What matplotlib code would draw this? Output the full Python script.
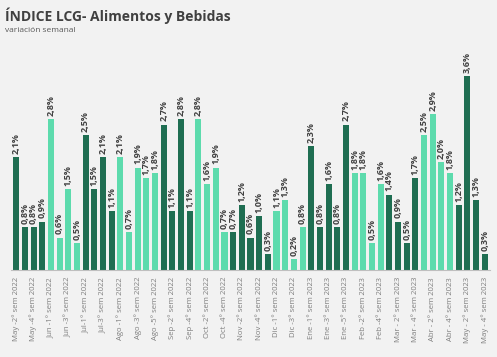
import matplotlib.pyplot as plt

# weekly variation, % (one bar per week)
values = [2.1, 0.8, 0.8, 0.9,
          2.8, 0.6, 1.5, 0.5,
          2.5, 1.5, 2.1, 1.1,
          2.1, 0.7, 1.9, 1.7, 1.8,
          2.7, 1.1, 2.8, 1.1,
          2.8, 1.6, 1.9, 0.7,
          0.7, 1.2, 0.6, 1.0, 0.3,
          1.1, 1.3, 0.2, 0.8,
          2.3, 0.8, 1.6, 0.8, 2.7,
          1.8, 1.8, 0.5, 1.6,
          1.4, 0.9, 0.5, 1.7,
          2.5, 2.9, 2.0, 1.8,
          1.2, 3.6, 1.3, 0.3]

# weeks per month, alternating shade
weeks_per_month = [4, 4, 4, 5, 4, 4, 5, 4, 5, 4, 4, 4, 4]

# only every other week gets a label
tick_labels = ["May -2° sem 2022", "May -4° sem 2022", "Jun -1° sem 2022", "Jun -3° sem 2022",
               "Jul-1° sem 2022", "Jul-3° sem 2022", "Ago -1° sem 2022", "Ago -3° sem 2022",
               "Ago -5° sem 2022", "Sep -2° sem 2022", "Sep -4° sem 2022", "Oct -2° sem 2022",
               "Oct -4° sem 2022", "Nov -2° sem 2022", "Nov -4° sem 2022", "Dic -1° sem 2022",
               "Dic -3° sem 2022", "Ene -1° sem 2023", "Ene -3° sem 2023", "Ene -5° sem 2023",
               "Feb -2° sem 2023", "Feb -4° sem 2023", "Mar - 2° sem 2023", "Mar - 4° sem 2023",
               "Abr - 2° sem 2023", "Abr - 4° sem 2023", "May - 2° sem 2023", "May - 4° sem 2023"]

DARK = "#1f6e52"
LIGHT = "#5ddbad"
BG = "#f2f2f2"

colors = []
for m, n in enumerate(weeks_per_month):
    colors += [DARK if m % 2 == 0 else LIGHT] * n

plt.rcParams['font.family'] = ['Open Sans', 'DejaVu Sans']

fig = plt.figure(figsize=(4.97, 3.57), dpi=100, facecolor=BG)
ax = fig.add_axes([11/497, 87/357, 479/497, 230/357], facecolor=BG)

x = list(range(len(values)))
ax.bar(x, values, width=0.7, color=colors)

for xi, v in zip(x, values):
    ax.text(xi, v + 0.06, "{:.1f}%".format(v).replace(".", ","), rotation=90,
            ha='center', va='bottom', fontsize=6.5, fontweight='bold', color="#404040")

ax.set_xlim(-0.6, len(values) - 0.4)
ax.set_ylim(0, 4.27)
ax.set_xticks(x[::2])
ax.set_xticklabels(tick_labels, rotation=90, fontsize=5.6, color="#7f7f7f")
ax.tick_params(axis='x', length=0, pad=5)
ax.set_yticks([])
for s in ['top', 'right', 'left']:
    ax.spines[s].set_visible(False)
ax.spines['bottom'].set_color("#bfbfbf")

fig.text(5/497, 1 - 16/357, "ÍNDICE LCG- Alimentos y Bebidas", fontsize=10,
         fontweight='bold', color="#404040", va='center')
fig.text(5/497, 1 - 31/357, "variación semanal", fontsize=6, color="#595959", va='center')

fig.savefig("out.png", dpi=100, facecolor=BG)
